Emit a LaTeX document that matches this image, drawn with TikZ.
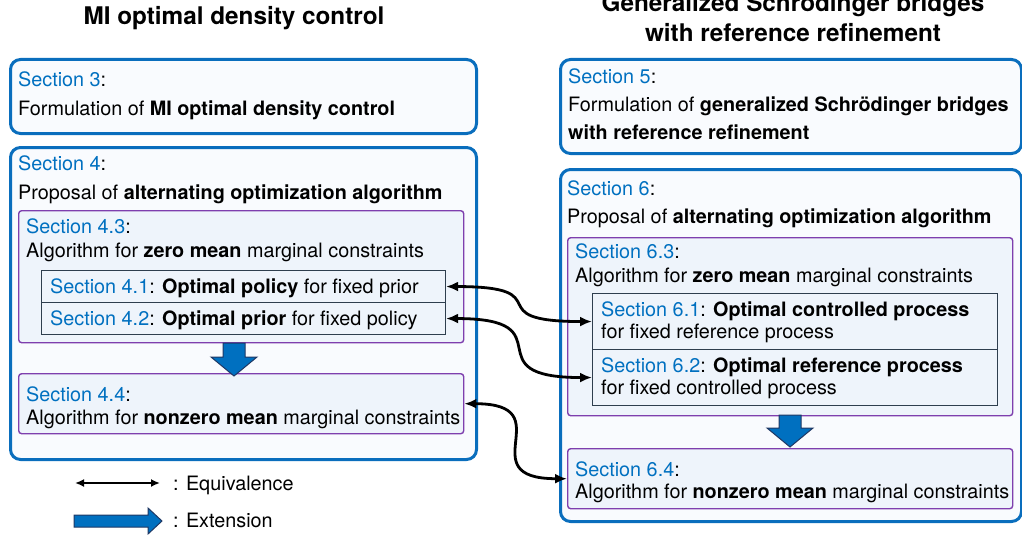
\documentclass[tikz,border=0pt]{standalone}
\usepackage{fontspec}
\setmainfont{TeX Gyre Heros}
\usetikzlibrary{arrows.meta}

\definecolor{secblue}{HTML}{0070C0}
\definecolor{frameblue}{HTML}{0A6EBD}
\definecolor{algpurple}{HTML}{7E3FAE}
\definecolor{subgray}{HTML}{2E3E4E}
\definecolor{outerfill}{HTML}{F9FBFE}
\definecolor{innerfill}{HTML}{EEF4FB}
\definecolor{arrowedge}{HTML}{1F3864}

\newcommand{\seclabel}[1]{\textcolor{secblue}{#1}}

\begin{document}
\begin{tikzpicture}[x=1pt,y=-1pt,
    outerbox/.style={draw=frameblue, line width=3, rounded corners=10, fill=outerfill, inner sep=0, anchor=north west},
    algbox/.style={draw=algpurple, line width=1.4, rounded corners=3, fill=innerfill, inner sep=0, anchor=north west},
    subbox/.style={draw=subgray, line width=1.1, fill=innerfill, inner sep=0, anchor=north west},
    txt/.style={anchor=base west, inner sep=0, font=\fontsize{19.8}{23}\selectfont},
    title/.style={anchor=base, inner sep=0, align=center, font=\fontsize{24.3}{30}\selectfont\bfseries},
    equiv/.style={{Latex[length=12,width=10]}-{Latex[length=12,width=10]}, line width=2.8},
    ext/.style={fill=secblue, draw=arrowedge, line width=1}]
      \useasboundingbox (0,0) rectangle (1022,535);

      % titles
      \node[title] (lefttitle) at (234,25) {MI optimal density control};
      \node[title] (righttitle) at (793,42) {Generalized Schrödinger bridges\\with reference refinement};

      % left column
      \node[outerbox, minimum width=466, minimum height=74] (s3) at (9,58) {};
      \node[txt] (s3a) at (18,86) {\seclabel{Section 3}:};
      \node[txt] (s3b) at (18,115) {Formulation of \textbf{MI optimal density control}};

      \node[outerbox, minimum width=466, minimum height=312] (s4) at (9,146) {};
      \node[txt] (s4a) at (18,170) {\seclabel{Section 4}:};
      \node[txt] (s4b) at (18,199) {Proposal of \textbf{alternating optimization algorithm}};

      \node[algbox, minimum width=445, minimum height=132] (s43) at (18,210) {};
      \node[txt] (s43a) at (26,233) {\seclabel{Section 4.3}:};
      \node[txt] (s43b) at (26,257) {Algorithm for \textbf{zero mean} marginal constraints};

      \node[subbox, minimum width=404, minimum height=32] (s41) at (41,270) {};
      \node[txt] (s41a) at (50,293) {\seclabel{Section 4.1}: \textbf{Optimal policy} for fixed prior};
      \node[subbox, minimum width=404, minimum height=32] (s42) at (41,302) {};
      \node[txt] (s42a) at (50,325) {\seclabel{Section 4.2}: \textbf{Optimal prior} for fixed policy};

      \node[algbox, minimum width=445, minimum height=60] (s44) at (18,373) {};
      \node[txt] (s44a) at (26,401) {\seclabel{Section 4.4}:};
      \node[txt] (s44b) at (26,424) {Algorithm for \textbf{nonzero mean} marginal constraints};

      \draw[ext] (223,343) -- (245,343) -- (245,357) -- (257,357) -- (234,376) -- (211,357) -- (223,357) -- cycle;

      % right column
      \node[outerbox, minimum width=461, minimum height=94] (s5) at (559,58) {};
      \node[txt] (s5a) at (568,83) {\seclabel{Section 5}:};
      \node[txt] (s5b) at (568,111) {Formulation of \textbf{generalized Schrödinger bridges}};
      \node[txt] (s5c) at (568,139) {\textbf{with reference refinement}};

      \node[outerbox, minimum width=461, minimum height=352] (s6) at (559,168) {};
      \node[txt] (s6a) at (567,195) {\seclabel{Section 6}:};
      \node[txt] (s6b) at (567,223) {Proposal of \textbf{alternating optimization algorithm}};

      \node[algbox, minimum width=445, minimum height=178] (s63) at (567,237) {};
      \node[txt] (s63a) at (575,258) {\seclabel{Section 6.3}:};
      \node[txt] (s63b) at (575,282) {Algorithm for \textbf{zero mean} marginal constraints};

      \node[subbox, minimum width=405, minimum height=56] (s61) at (592,293) {};
      \node[txt] (s61a) at (601,316) {\seclabel{Section 6.1}: \textbf{Optimal controlled process}};
      \node[txt] (s61b) at (601,338) {for fixed reference process};
      \node[subbox, minimum width=405, minimum height=56] (s62) at (592,349) {};
      \node[txt] (s62a) at (601,372) {\seclabel{Section 6.2}: \textbf{Optimal reference process}};
      \node[txt] (s62b) at (601,394) {for fixed controlled process};

      \node[algbox, minimum width=445, minimum height=60] (s64) at (567,448) {};
      \node[txt] (s64a) at (575,476) {\seclabel{Section 6.4}:};
      \node[txt] (s64b) at (575,498) {Algorithm for \textbf{nonzero mean} marginal constraints};

      \draw[ext] (779,415) -- (801,415) -- (801,428) -- (813,428) -- (790,447) -- (767,428) -- (779,428) -- cycle;

      % equivalences
      \draw[equiv] (s41.east) to[out=0, in=180, looseness=2] (s61.west);
      \draw[equiv] (s42.east) to[out=0, in=180, looseness=2] (s62.west);
      \draw[equiv] (s44.east) to[out=0, in=180, looseness=2] (s64.west);

      % legend
      \coordinate (eqL) at (75,483);
      \coordinate (eqR) at (160,483);
      \draw[equiv, line width=2.2, {Latex[length=9,width=8]}-{Latex[length=9,width=8]}] (eqL) -- (eqR);
      \node[txt] (eqtxt) at (173,490) {: Equivalence};
      \draw[ext] (74,515) -- (148,515) -- (148,508) -- (162,521) -- (148,534) -- (148,527) -- (74,527) -- cycle;
      \node[txt] (exttxt) at (173,527) {: Extension};
\end{tikzpicture}
\end{document}
